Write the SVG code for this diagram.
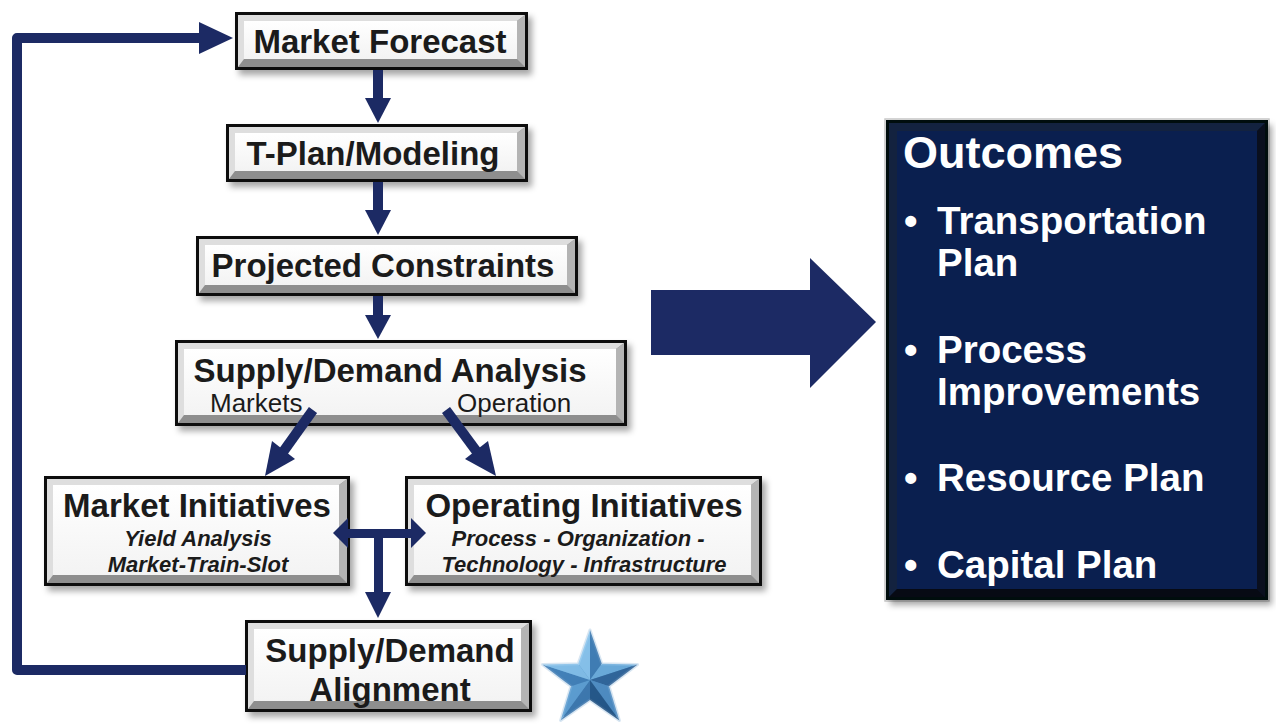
<svg xmlns="http://www.w3.org/2000/svg" width="1276" height="728" viewBox="0 0 1276 728">
<defs>
<filter id="sh" x="-10%" y="-10%" width="125%" height="130%">
<feDropShadow dx="4" dy="5" stdDeviation="3" flood-color="#000" flood-opacity="0.35"/>
</filter>
<linearGradient id="faceG" x1="0" y1="0" x2="0" y2="1">
<stop offset="0" stop-color="#ffffff"/>
<stop offset="1" stop-color="#f3f3f3"/>
</linearGradient>
<linearGradient id="starG" x1="0" y1="0" x2="1" y2="1">
<stop offset="0" stop-color="#7dbbe8"/>
<stop offset="1" stop-color="#2d6aa0"/>
</linearGradient>
<style>
.frame{fill:#111;filter:url(#sh)}
.bd{fill:#8e8e8e}
.bl{fill:#dedede}
.br{fill:#b4b4b4}
.face{fill:url(#faceG)}
.h{font-family:"Liberation Sans",Arial,sans-serif;font-weight:bold;font-size:33px;fill:#1b1b1b;text-anchor:middle}
.sub{font-family:"Liberation Sans",Arial,sans-serif;font-weight:bold;font-style:italic;font-size:22px;fill:#1b1b1b;text-anchor:middle}
.lab{font-family:"Liberation Sans",Arial,sans-serif;font-size:26px;fill:#1b1b1b}
.ot{font-family:"Liberation Sans",Arial,sans-serif;font-weight:bold;fill:#ffffff}
.ln{fill:none;stroke:#1c2a64;stroke-width:10}
.ah{fill:#1c2a64}
</style>
</defs>
<rect width="1276" height="728" fill="#ffffff"/>

<g id="market-forecast">
<rect class="frame" x="235" y="12" width="293" height="58"/>
<rect class="bd" x="238" y="15" width="287" height="52"/>
<polygon class="bl" points="238,15 525,15 517,21 244,21 244,59 238,67"/>
<polygon class="br" points="525,15 525,67 517,59 517,21"/>
<rect class="face" x="244" y="21" width="273" height="38"/>
<text class="h" x="380" y="53">Market Forecast</text>
</g>

<g id="t-plan">
<rect class="frame" x="226" y="124" width="302" height="58"/>
<rect class="bd" x="229" y="127" width="296" height="52"/>
<polygon class="bl" points="229,127 525,127 517,133 235,133 235,171 229,179"/>
<polygon class="br" points="525,127 525,179 517,171 517,133"/>
<rect class="face" x="235" y="133" width="282" height="38"/>
<text class="h" x="373" y="165">T-Plan/Modeling</text>
</g>

<g id="projected-constraints">
<rect class="frame" x="196" y="236" width="382" height="60"/>
<rect class="bd" x="199" y="239" width="376" height="54"/>
<polygon class="bl" points="199,239 575,239 567,245 205,245 205,285 199,293"/>
<polygon class="br" points="575,239 575,293 567,285 567,245"/>
<rect class="face" x="205" y="245" width="362" height="40"/>
<text class="h" x="383" y="277">Projected Constraints</text>
</g>

<g id="supply-demand-analysis">
<rect class="frame" x="175" y="340" width="452" height="86"/>
<rect class="bd" x="178" y="343" width="446" height="80"/>
<polygon class="bl" points="178,343 624,343 616,349 184,349 184,415 178,423"/>
<polygon class="br" points="624,343 624,423 616,415 616,349"/>
<rect class="face" x="184" y="349" width="432" height="66"/>
<text class="h" x="390" y="382">Supply/Demand Analysis</text>
<text class="lab" x="210" y="412">Markets</text>
<text class="lab" x="457" y="412">Operation</text>
</g>

<g id="market-initiatives">
<rect class="frame" x="44" y="476" width="306" height="110"/>
<rect class="bd" x="47" y="479" width="300" height="104"/>
<polygon class="bl" points="47,479 347,479 339,485 53,485 53,575 47,583"/>
<polygon class="br" points="347,479 347,583 339,575 339,485"/>
<rect class="face" x="53" y="485" width="286" height="90"/>
<text class="h" x="197" y="517">Market Initiatives</text>
<text class="sub" x="198" y="546">Yield Analysis</text>
<text class="sub" x="198" y="572">Market-Train-Slot</text>
</g>

<g id="operating-initiatives">
<rect class="frame" x="405" y="476" width="357" height="110"/>
<rect class="bd" x="408" y="479" width="351" height="104"/>
<polygon class="bl" points="408,479 759,479 751,485 414,485 414,575 408,583"/>
<polygon class="br" points="759,479 759,583 751,575 751,485"/>
<rect class="face" x="414" y="485" width="337" height="90"/>
<text class="h" x="584" y="517">Operating Initiatives</text>
<text class="sub" x="578" y="546">Process - Organization -</text>
<text class="sub" x="584" y="572">Technology - Infrastructure</text>
</g>

<g id="supply-demand-alignment">
<rect class="frame" x="245" y="620" width="287" height="92"/>
<rect class="bd" x="248" y="623" width="281" height="86"/>
<polygon class="bl" points="248,623 529,623 521,629 254,629 254,701 248,709"/>
<polygon class="br" points="529,623 529,709 521,701 521,629"/>
<rect class="face" x="254" y="629" width="267" height="72"/>
<text class="h" x="390" y="662">Supply/Demand</text>
<text class="h" x="390" y="701">Alignment</text>
</g>

<g id="star">
<polygon points="590,630 601.8,663.8 637.6,664.5 609,686.2 619.4,720.5 590,700 560.6,720.5 571,686.2 542.4,664.5 578.2,663.8" fill="url(#starG)" stroke="#d8e6f2" stroke-width="3" stroke-linejoin="round"/>
<g opacity="0.85">
<polygon points="590,680 590,630 578.2,663.8" fill="#8cc6ee"/>
<polygon points="590,680 590,630 601.8,663.8" fill="#3b78b0"/>
<polygon points="590,680 637.6,664.5 601.8,663.8" fill="#6eaedd"/>
<polygon points="590,680 637.6,664.5 609,686.2" fill="#2c5f94"/>
<polygon points="590,680 619.4,720.5 609,686.2" fill="#4f8cc2"/>
<polygon points="590,680 619.4,720.5 590,700" fill="#1f4f80"/>
<polygon points="590,680 560.6,720.5 590,700" fill="#3a74ab"/>
<polygon points="590,680 560.6,720.5 571,686.2" fill="#5d9ed2"/>
<polygon points="590,680 542.4,664.5 571,686.2" fill="#3d7bb4"/>
<polygon points="590,680 542.4,664.5 578.2,663.8" fill="#86c1ea"/>
</g>
</g>

<g id="outcomes">
<rect x="885" y="119" width="384" height="482" fill="none" stroke="#c8c8c8" stroke-width="1.5"/>
<rect x="886" y="120" width="382" height="480" fill="#05080f" filter="url(#sh)"/>
<rect x="889" y="123" width="376" height="474" fill="#0c1733"/>
<polygon points="889,123 1265,123 1257,131 897,131 897,589 889,597" fill="#13223f"/>
<polygon points="1265,123 1265,597 1257,589 1257,131" fill="#0a0f1e"/>
<polygon points="889,597 1265,597 1257,589 897,589" fill="#070a14"/>
<rect x="897" y="131" width="360" height="458" fill="#0a1f4f"/>
<text class="ot" x="903" y="168" font-size="45">Outcomes</text>
<g font-size="38.5">
<text class="ot" x="904" y="234">•</text>
<text class="ot" x="937" y="234">Transportation</text>
<text class="ot" x="937" y="276">Plan</text>
<text class="ot" x="904" y="363">•</text>
<text class="ot" x="937" y="363">Process</text>
<text class="ot" x="937" y="405">Improvements</text>
<text class="ot" x="904" y="491">•</text>
<text class="ot" x="937" y="491">Resource Plan</text>
<text class="ot" x="904" y="578">•</text>
<text class="ot" x="937" y="578">Capital Plan</text>
</g>
</g>

<g id="connectors">
<path class="ln" d="M246,670 H17 V38 H205" stroke-linejoin="round"/>
<polygon class="ah" points="199,22 233,38 199,54"/>
<rect class="ah" x="373" y="70" width="10" height="30"/>
<polygon class="ah" points="365,98 391,98 378,123"/>
<rect class="ah" x="373" y="182" width="10" height="30"/>
<polygon class="ah" points="365,210 391,210 378,235"/>
<rect class="ah" x="373" y="296" width="10" height="22"/>
<polygon class="ah" points="365,315 391,315 378,339"/>
<line x1="313" y1="410" x2="283" y2="452" stroke="#1c2a64" stroke-width="10"/>
<polygon class="ah" points="272,441 295,459 265,476"/>
<line x1="446" y1="410" x2="477" y2="452" stroke="#1c2a64" stroke-width="10"/>
<polygon class="ah" points="465,459 488,441 496,476"/>
<rect class="ah" x="345" y="529" width="68" height="9"/>
<polygon class="ah" points="333,533 348,518 348,548"/>
<polygon class="ah" points="426,533 411,518 411,548"/>
<rect class="ah" x="374" y="533" width="9" height="62"/>
<polygon class="ah" points="365,592 391,592 378,618"/>
<polygon class="ah" points="651,290 810,290 810,258 876,322 810,388 810,355 651,355"/>
</g>
</svg>
